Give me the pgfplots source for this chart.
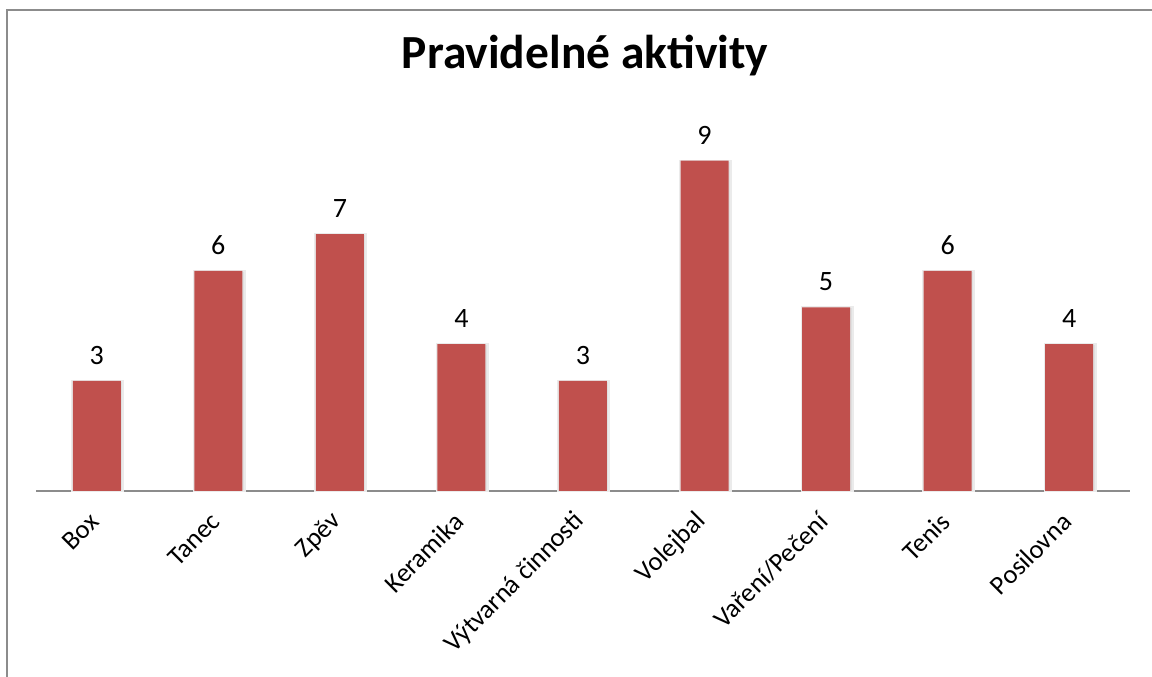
\documentclass[border=0pt]{standalone}
\usepackage{pgfplots}
\pgfplotsset{compat=1.18}
\usepackage{fontspec}
\setmainfont{Carlito}
\definecolor{barred}{HTML}{C0504D}
\begin{document}
\begin{tikzpicture}[x=1pt,y=1pt]
\path[use as bounding box] (0,0) rectangle (1152,677);
\begin{scope}
\clip (0,0) rectangle (1152,677);
\fill[white] (0,0) rectangle (1152,677);
\draw[black!45, line width=2pt] (7,-10) -- (7,667) -- (1170,667);
\end{scope}
\node[anchor=base, font=\fontsize{47.5}{56}\selectfont\bfseries] at (585,608) {Pravidelné aktivity};
\begin{axis}[
  at={(36pt,186pt)}, anchor=south west,
  scale only axis, width=1094pt, height=367pt,
  xmin=-0.5, xmax=8.5, ymin=0, ymax=10,
  axis x line*=bottom, axis y line=none,
  x axis line style={-, black!45, line width=1.2pt},
  xtick={0,...,8},
  xticklabels={Box,Tanec,Zpěv,Keramika,Výtvarná činnosti,Volejbal,Vaření/Pečení,Tenis,Posilovna},
  major tick length=0pt,
  xticklabel style={rotate=45, anchor=east, font=\fontsize{26.5}{32}\selectfont},
  xticklabel shift=24pt,
  ytick=\empty,
  /pgf/number format/assume math mode=true,
  clip=false,
]
\addplot[ybar, bar width=51pt, bar shift=1pt, fill=black!12, draw=black!8, line width=2pt] coordinates {(0,3) (1,6) (2,7) (3,4) (4,3) (5,9) (6,5) (7,6) (8,4)};
\addplot[ybar, bar width=48pt, bar shift=0pt, fill=barred, draw=none,
  nodes near coords, every node near coord/.append style={black, font=\fontsize{28}{34}\selectfont, yshift=13pt}]
  coordinates {(0,3) (1,6) (2,7) (3,4) (4,3) (5,9) (6,5) (7,6) (8,4)};
\end{axis}
\end{tikzpicture}
\end{document}
